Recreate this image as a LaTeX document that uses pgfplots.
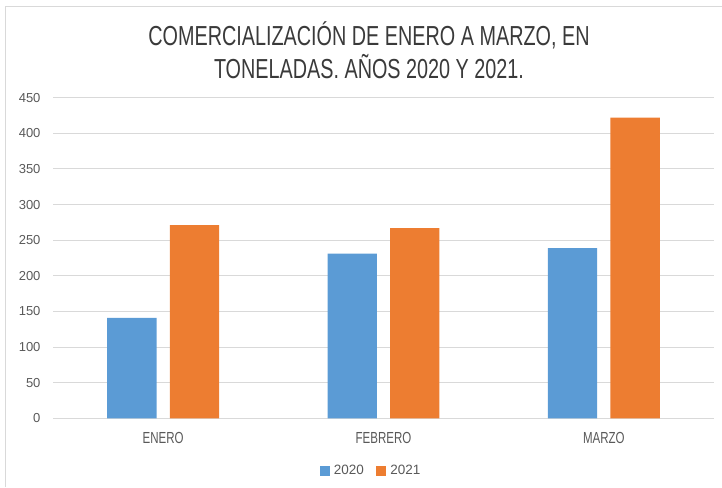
\documentclass[border=0pt]{standalone}
\usepackage{fontspec}
\setmainfont{Liberation Sans}
\newfontfamily\condfont{Liberation Sans}[FakeStretch=0.72]
\usepackage{pgfplots}
\pgfplotsset{compat=1.18}
\definecolor{cblue}{HTML}{5B9BD5}
\definecolor{corange}{HTML}{ED7D31}
\definecolor{cgrid}{HTML}{D9D9D9}
\definecolor{ctext}{HTML}{595959}
\definecolor{ctitle}{HTML}{3A3A3A}
\begin{document}
\begin{tikzpicture}[x=1pt,y=1pt]
\useasboundingbox (0,0) rectangle (722,487);
\draw[cgrid, line width=1pt] (5,0) -- (5,480) -- (722,480);
\begin{axis}[
  at={(53pt,68.7pt)}, anchor=south west,
  scale only axis, width=661pt, height=320.6pt,
  xmin=-0.5, xmax=2.5, ymin=0, ymax=450,
  ybar, bar width=49.3pt,
  xtick={0,1,2}, xticklabels={ENERO,FEBRERO,MARZO},
  ytick={0,50,...,450},
  axis line style={draw=none},
  tick style={draw=none},
  ymajorgrids, grid style={cgrid, line width=0.9pt},
  /pgf/number format/assume math mode=true,
  yticklabel style={font=\fontsize{13}{15}\selectfont, text=ctext, xshift=-9pt},
  xticklabel style={font=\condfont\fontsize{16}{18}\selectfont, text=ctext, yshift=-6pt},
  legend style={at={(0.481,-0.164)}, anchor=center, draw=none, fill=none,
    legend columns=2, font=\fontsize{13.5}{15}\selectfont, text=ctext,
    /tikz/every even column/.append style={column sep=10pt},
    /tikz/every odd column/.append style={column sep=3pt}},
  legend cell align=left,
  clip=false,
]
\addplot[draw=none, fill=cblue, bar shift=-31.3pt, forget plot] coordinates {(0,141) (1,231) (2,239)};
\addplot[draw=none, fill=corange, bar shift=31.3pt, forget plot] coordinates {(0,271) (1,267) (2,422)};
\addlegendimage{legend image code/.code={\fill[cblue] (0pt,-4.5pt) rectangle (9pt,4.5pt);}}
\addlegendentry{2020}
\addlegendimage{legend image code/.code={\fill[corange] (0pt,-4.5pt) rectangle (9pt,4.5pt);}}
\addlegendentry{2021}
\end{axis}
\node[align=center, text=ctitle, font=\condfont\fontsize{27.5}{33}\selectfont] at (369,437) {COMERCIALIZACIÓN DE ENERO A MARZO, EN\\TONELADAS. AÑOS 2020 Y 2021.};
\end{tikzpicture}
\end{document}
